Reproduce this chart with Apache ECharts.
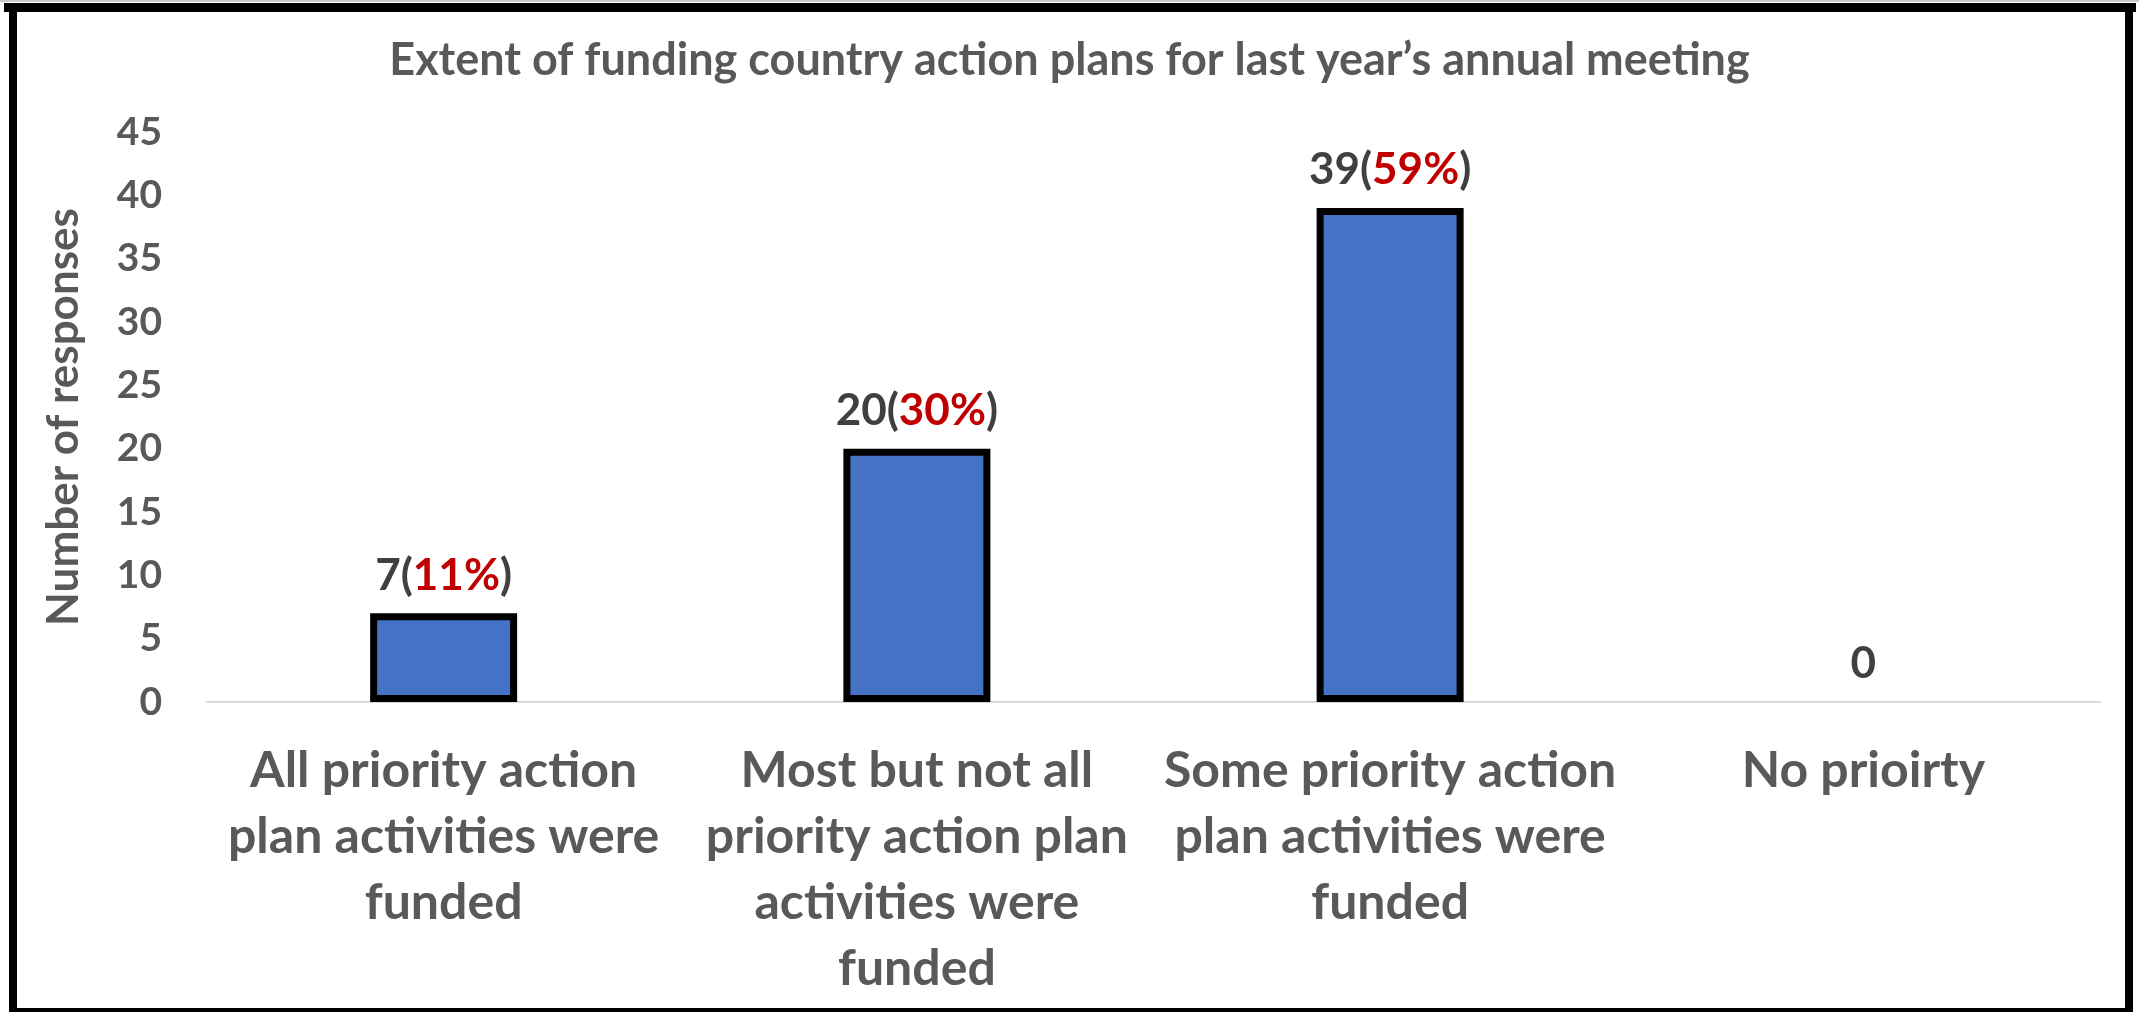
<!DOCTYPE html>
<html>
<head>
<meta charset="utf-8">
<script src="https://cdn.jsdelivr.net/npm/echarts@6/dist/echarts.min.js"></script>
<style>
html,body{margin:0;padding:0;background:#fff;}
#chart{width:2139px;height:1012px;}
</style>
</head>
<body>
<div id="chart"></div>
<script>
const titleText = 'Extent of funding country action plans for last year\u2019s annual meeting';
const categories = [
  'All priority action\nplan activities were\nfunded',
  'Most but not all\npriority action plan\nactivities were\nfunded',
  'Some priority action\nplan activities were\nfunded',
  'No prioirty'
];
const values = [7, 20, 39, 0];
const percents = ['11%', '30%', '59%', ''];
const yTicks = { min: 0, max: 45, interval: 5 };
const yName = 'Number of responses';

const FONT = 'Lato';
const chart = echarts.init(document.getElementById('chart'), null, { renderer: 'canvas' });
chart.setOption({
  backgroundColor: '#fff',
  animation: false,
  title: {
    text: titleText,
    left: 'center',
    top: 33,
    textStyle: { fontFamily: FONT, fontWeight: 'bold', fontSize: 45, color: '#595959' }
  },
  graphic: [
    { type: 'rect', shape: { x: 0, y: 0, width: 2139, height: 2 }, style: { fill: '#c8c8c8' } },
    { type: 'rect', shape: { x: 4, y: 3, width: 2132, height: 9 }, style: { fill: '#000' } },
    { type: 'rect', shape: { x: 9, y: 3, width: 8, height: 1009 }, style: { fill: '#000' } },
    { type: 'rect', shape: { x: 2125, y: 3, width: 8, height: 1009 }, style: { fill: '#000' } },
    { type: 'rect', shape: { x: 9, y: 1008, width: 2124, height: 4 }, style: { fill: '#000' } }
  ],
  grid: { left: 207, right: 39, top: 132, bottom: 310, containLabel: false },
  xAxis: {
    type: 'category',
    data: categories,
    axisLine: { lineStyle: { color: '#d9d9d9', width: 2 } },
    axisTick: { show: false },
    axisLabel: {
      interval: 0,
      margin: 36,
      fontFamily: FONT,
      fontWeight: 'bold',
      fontSize: 50,
      lineHeight: 66,
      color: '#595959'
    }
  },
  yAxis: {
    type: 'value',
    min: yTicks.min,
    max: yTicks.max,
    interval: yTicks.interval,
    name: yName,
    nameLocation: 'middle',
    nameGap: 121,
    nameTextStyle: { fontFamily: FONT, fontWeight: 'bold', fontSize: 44, color: '#595959' },
    splitLine: { show: false },
    axisLine: { show: false },
    axisTick: { show: false },
    axisLabel: {
      margin: 45,
      fontFamily: FONT,
      fontWeight: 'bold',
      fontSize: 39,
      color: '#595959'
    }
  },
  series: [{
    type: 'bar',
    data: values.map(v => v === 0 ? { value: v, itemStyle: { borderWidth: 0 } } : v),
    barWidth: 147,
    itemStyle: { color: '#4472C4', borderColor: '#000', borderWidth: 7 },
    label: {
      show: true,
      position: 'top',
      distance: 16,
      fontFamily: FONT,
      fontWeight: 'bold',
      fontSize: 44,
      color: '#404040',
      formatter: function (p) {
        const pct = percents[p.dataIndex];
        return pct ? '{n|' + p.value + '(}{r|' + pct + '}{n|)}' : '{n|' + p.value + '}';
      },
      rich: {
        n: { fontFamily: FONT, fontWeight: 'bold', fontSize: 44, color: '#404040' },
        r: { fontFamily: FONT, fontWeight: 'bold', fontSize: 44, color: '#C00000' }
      }
    }
  }]
});
</script>
</body>
</html>
